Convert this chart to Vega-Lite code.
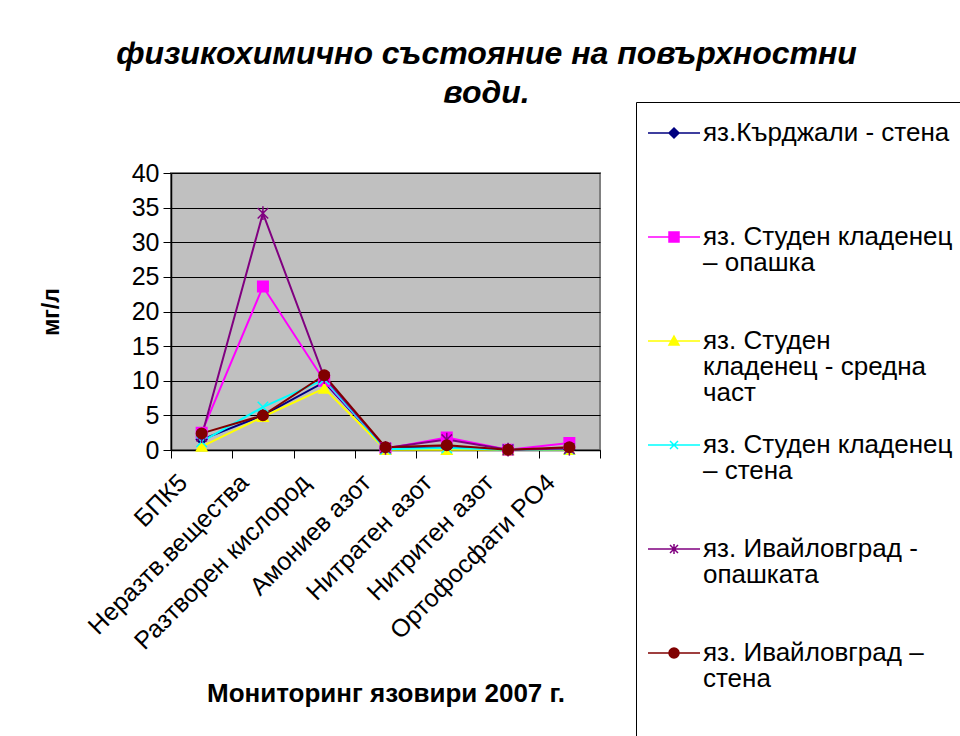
{
  "$schema": "https://vega.github.io/schema/vega-lite/v6.json",
  "width": 429,
  "height": 277,
  "autosize": {"type": "none"},
  "padding": {"left": 171, "top": 173, "right": 360, "bottom": 286},
  "background": "white",
  "title": {
    "text": ["физикохимично състояние на повърхностни", "води."],
    "font": "Liberation Sans",
    "fontSize": 32,
    "fontWeight": "bold",
    "fontStyle": "italic",
    "color": "black",
    "anchor": "middle",
    "frame": "group",
    "dx": 101,
    "dy": 70,
    "offset": 62,
    "lineHeight": 39
  },
  "data": {
    "values": [
      {"param": "БПК5", "series": "яз.Кърджали - стена", "value": 1.5},
      {"param": "Неразтв.вещества", "series": "яз.Кърджали - стена", "value": 5.0},
      {"param": "Разтворен кислород", "series": "яз.Кърджали - стена", "value": 9.8},
      {"param": "Амониев азот", "series": "яз.Кърджали - стена", "value": 0.2},
      {"param": "Нитратен азот", "series": "яз.Кърджали - стена", "value": 0.4},
      {"param": "Нитритен азот", "series": "яз.Кърджали - стена", "value": 0.05},
      {"param": "Ортофосфати PO4", "series": "яз.Кърджали - стена", "value": 0.1},

      {"param": "БПК5", "series": "яз. Студен кладенец – опашка", "value": 2.5},
      {"param": "Неразтв.вещества", "series": "яз. Студен кладенец – опашка", "value": 23.6},
      {"param": "Разтворен кислород", "series": "яз. Студен кладенец – опашка", "value": 10.0},
      {"param": "Амониев азот", "series": "яз. Студен кладенец – опашка", "value": 0.2},
      {"param": "Нитратен азот", "series": "яз. Студен кладенец – опашка", "value": 1.8},
      {"param": "Нитритен азот", "series": "яз. Студен кладенец – опашка", "value": 0.05},
      {"param": "Ортофосфати PO4", "series": "яз. Студен кладенец – опашка", "value": 1.0},

      {"param": "БПК5", "series": "яз. Студен кладенец - средна част", "value": 0.5},
      {"param": "Неразтв.вещества", "series": "яз. Студен кладенец - средна част", "value": 4.8},
      {"param": "Разтворен кислород", "series": "яз. Студен кладенец - средна част", "value": 8.9},
      {"param": "Амониев азот", "series": "яз. Студен кладенец - средна част", "value": 0.05},
      {"param": "Нитратен азот", "series": "яз. Студен кладенец - средна част", "value": 0.05},
      {"param": "Нитритен азот", "series": "яз. Студен кладенец - средна част", "value": 0.02},
      {"param": "Ортофосфати PO4", "series": "яз. Студен кладенец - средна част", "value": 0.05},

      {"param": "БПК5", "series": "яз. Студен кладенец – стена", "value": 1.2},
      {"param": "Неразтв.вещества", "series": "яз. Студен кладенец – стена", "value": 6.2},
      {"param": "Разтворен кислород", "series": "яз. Студен кладенец – стена", "value": 10.2},
      {"param": "Амониев азот", "series": "яз. Студен кладенец – стена", "value": 0.1},
      {"param": "Нитратен азот", "series": "яз. Студен кладенец – стена", "value": 0.3},
      {"param": "Нитритен азот", "series": "яз. Студен кладенец – стена", "value": 0.03},
      {"param": "Ортофосфати PO4", "series": "яз. Студен кладенец – стена", "value": 0.1},

      {"param": "БПК5", "series": "яз. Ивайловград - опашката", "value": 2.0},
      {"param": "Неразтв.вещества", "series": "яз. Ивайловград - опашката", "value": 34.2},
      {"param": "Разтворен кислород", "series": "яз. Ивайловград - опашката", "value": 10.5},
      {"param": "Амониев азот", "series": "яз. Ивайловград - опашката", "value": 0.3},
      {"param": "Нитратен азот", "series": "яз. Ивайловград - опашката", "value": 1.5},
      {"param": "Нитритен азот", "series": "яз. Ивайловград - опашката", "value": 0.05},
      {"param": "Ортофосфати PO4", "series": "яз. Ивайловград - опашката", "value": 0.2},

      {"param": "БПК5", "series": "яз. Ивайловград – стена", "value": 2.4},
      {"param": "Неразтв.вещества", "series": "яз. Ивайловград – стена", "value": 5.0},
      {"param": "Разтворен кислород", "series": "яз. Ивайловград – стена", "value": 10.8},
      {"param": "Амониев азот", "series": "яз. Ивайловград – стена", "value": 0.4},
      {"param": "Нитратен азот", "series": "яз. Ивайловград – стена", "value": 0.7},
      {"param": "Нитритен азот", "series": "яз. Ивайловград – стена", "value": 0.05},
      {"param": "Ортофосфати PO4", "series": "яз. Ивайловград – стена", "value": 0.4}
    ]
  },
  "encoding": {
    "x": {
      "field": "param",
      "type": "nominal",
      "sort": null,
      "scale": {"type": "band", "paddingInner": 0, "paddingOuter": 0},
      "title": "Мониторинг язовири 2007 г.",
      "axis": {
        "labelAngle": -45,
        "labelAlign": "right",
        "labelBaseline": "middle",
        "labelFont": "Liberation Sans",
        "labelFontSize": 25,
        "labelColor": "black",
        "labelPadding": 20,
        "labelOffset": -19,
        "labelLimit": 400,
        "tickBand": "extent",
        "tickSize": 8,
        "tickColor": "black",
        "domainColor": "black",
        "domainWidth": 1.5,
        "grid": false,
        "titleFont": "Liberation Sans",
        "titleFontSize": 26,
        "titleFontWeight": "bold",
        "titleColor": "black",
        "titlePadding": 30
      }
    },
    "y": {
      "field": "value",
      "type": "quantitative",
      "scale": {"domain": [0, 40], "nice": false},
      "title": "мг/л",
      "axis": {
        "values": [0, 5, 10, 15, 20, 25, 30, 35, 40],
        "grid": true,
        "gridColor": "black",
        "gridOpacity": 1,
        "gridWidth": 1,
        "tickSize": 8,
        "tickColor": "black",
        "domainColor": "black",
        "domainWidth": 1.5,
        "labelFont": "Liberation Sans",
        "labelFontSize": 25,
        "labelColor": "black",
        "labelPadding": 4,
        "titleFont": "Liberation Sans",
        "titleFontSize": 23,
        "titleFontWeight": "bold",
        "titleColor": "black",
        "titlePadding": 68
      }
    }
  },
  "layer": [
    {
      "mark": {"type": "line", "strokeWidth": 2},
      "encoding": {
        "color": {
          "field": "series",
          "type": "nominal",
          "scale": {
            "domain": ["яз.Кърджали - стена", "яз. Студен кладенец – опашка", "яз. Студен кладенец - средна част", "яз. Студен кладенец – стена", "яз. Ивайловград - опашката", "яз. Ивайловград – стена"],
            "range": ["#000080", "#FF00FF", "#FFFF00", "#00FFFF", "#800080", "#800000"]
          },
          "legend": {
            "orient": "none",
            "legendX": 465,
            "legendY": -71,
            "title": " ",
            "titleOrient": "bottom",
            "titleFontSize": 30,
            "titlePadding": 10,
            "strokeColor": "black",
            "fillColor": "white",
            "padding": 18,
            "gridAlign": "all",
            "rowPadding": 26,
            "symbolSize": 100,
            "symbolOffset": 7,
            "labelOffset": 16,
            "labelFont": "Liberation Sans",
            "labelFontSize": 26,
            "labelColor": "black",
            "labelLimit": 500,
            "labelBaseline": "middle",
            "labelExpr": "datum.label == 'яз. Студен кладенец – опашка' ? ['яз. Студен кладенец', '– опашка'] : datum.label == 'яз. Студен кладенец - средна част' ? ['яз. Студен', 'кладенец - средна', 'част'] : datum.label == 'яз. Студен кладенец – стена' ? ['яз. Студен кладенец', '– стена'] : datum.label == 'яз. Ивайловград - опашката' ? ['яз. Ивайловград -', 'опашката'] : datum.label == 'яз. Ивайловград – стена' ? ['яз. Ивайловград –', 'стена'] : datum.label",
            "encode": {
              "labels": {"update": {"lineHeight": {"value": 26}}},
              "symbols": {
                "update": {
                  "shape": {"signal": "datum.value == 'яз.Кърджали - стена' ? 'M-5.2,0L5.2,0M0,-1L1,0L0,1L-1,0Z' : datum.value == 'яз. Студен кладенец – опашка' ? 'M-5.2,0L5.2,0M-1,-1L1,-1L1,1L-1,1Z' : datum.value == 'яз. Студен кладенец - средна част' ? 'M-5.2,0L5.2,0M0,-1L1,0.8L-1,0.8Z' : datum.value == 'яз. Студен кладенец – стена' ? 'M-5.2,0L5.2,0M-0.8,-0.8L0.8,0.8M-0.8,0.8L0.8,-0.8' : datum.value == 'яз. Ивайловград - опашката' ? 'M-5.2,0L5.2,0M-0.8,-0.8L0.8,0.8M-0.8,0.8L0.8,-0.8M0,-1L0,1' : 'M-5.2,0L5.2,0M-1,0A1,1,0,1,1,1,0A1,1,0,1,1,-1,0Z'"},
                  "fill": {"scale": "color", "field": "value"},
                  "stroke": {"scale": "color", "field": "value"},
                  "strokeWidth": {"value": 1.5},
                  "opacity": {"value": 1},
                  "fillOpacity": {"value": 1}
                }
              }
            }
          }
        }
      }
    },
    {
      "mark": {"type": "point", "filled": true, "opacity": 1, "size": 110, "strokeWidth": 1.5},
      "encoding": {
        "fill": {
          "field": "series",
          "type": "nominal",
          "scale": {
            "domain": ["яз. Ивайловград – стена", "яз. Ивайловград - опашката", "яз. Студен кладенец – стена", "яз. Студен кладенец - средна част", "яз. Студен кладенец – опашка", "яз.Кърджали - стена"],
            "range": ["#800000", "#800080", "#00FFFF", "#FFFF00", "#FF00FF", "#000080"]
          },
          "legend": null
        },
        "stroke": {
          "field": "series",
          "type": "nominal",
          "scale": {
            "domain": ["яз. Ивайловград – стена", "яз. Ивайловград - опашката", "яз. Студен кладенец – стена", "яз. Студен кладенец - средна част", "яз. Студен кладенец – опашка", "яз.Кърджали - стена"],
            "range": ["#800000", "#800080", "#00FFFF", "#FFFF00", "#FF00FF", "#000080"]
          },
          "legend": null
        },
        "shape": {
          "field": "series",
          "type": "nominal",
          "scale": {
            "domain": ["яз. Ивайловград – стена", "яз. Ивайловград - опашката", "яз. Студен кладенец – стена", "яз. Студен кладенец - средна част", "яз. Студен кладенец – опашка", "яз.Кърджали - стена"],
            "range": ["circle", "M-1,-1L1,1M-1,1L1,-1M0,-1.3V1.3", "M-1,-1L1,1M-1,1L1,-1", "triangle-up", "square", "diamond"]
          },
          "legend": null
        }
      }
    }
  ],
  "config": {
    "view": {"fill": "#C0C0C0", "stroke": "#808080", "strokeWidth": 2},
    "font": "Liberation Sans"
  }
}
